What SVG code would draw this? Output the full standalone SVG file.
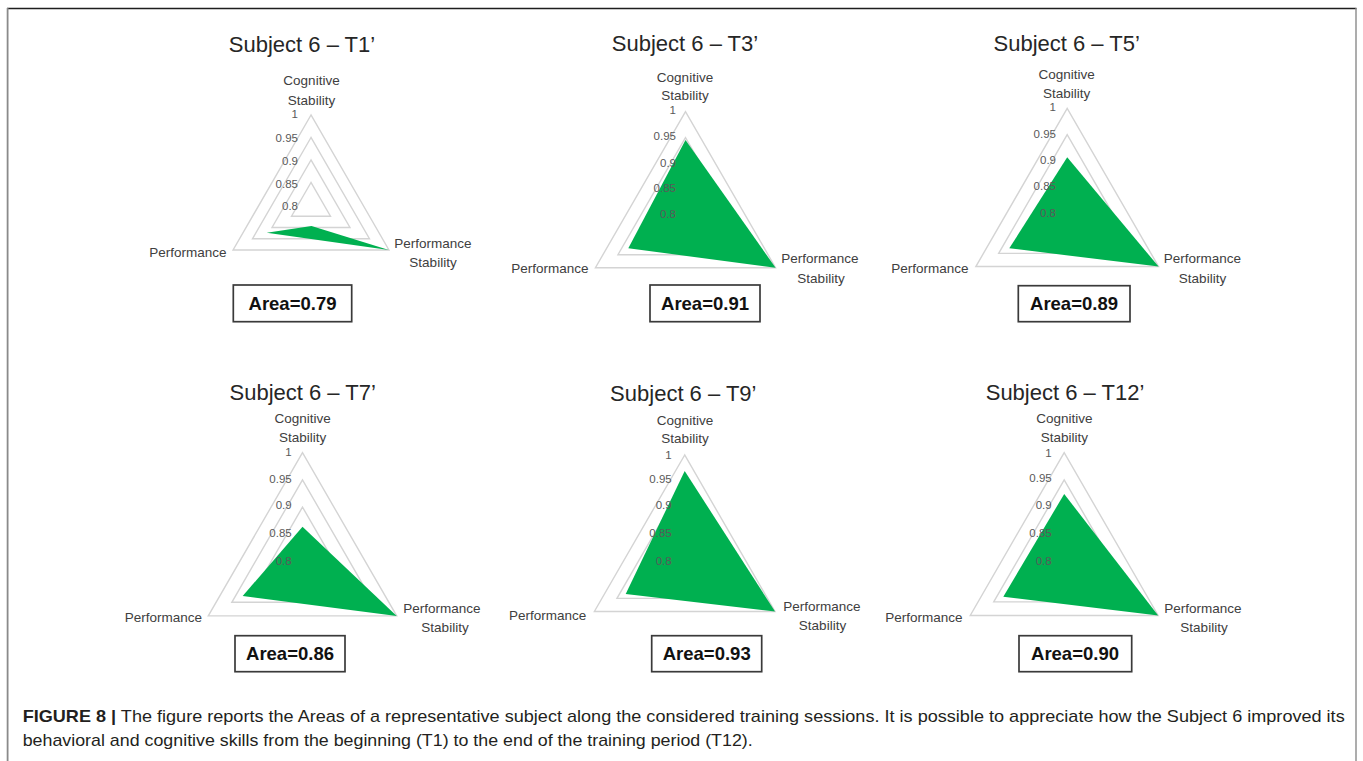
<svg xmlns="http://www.w3.org/2000/svg" width="1363" height="761" viewBox="0 0 1363 761">
<style>
text{font-family:"Liberation Sans",Arial,sans-serif}
.ring{fill:none;stroke:#d4d4d4;stroke-width:1.4;stroke-linejoin:miter}
.area{fill:#00b050}
.title{font-size:22px;fill:#262626;text-anchor:middle}
.ax{font-size:13.5px;fill:#404040;text-anchor:middle}
.tick{font-size:11.5px;fill:#595959;text-anchor:end}
.box{fill:#ffffff;stroke:#3a3a3a;stroke-width:1.7}
.val{font-size:18.5px;font-weight:bold;fill:#111;text-anchor:middle}
.cap{font-size:17px;fill:#231f20}
</style>
<rect x="0" y="0" width="1363" height="761" fill="#ffffff"/>
<g id="frame">
<line x1="7" y1="8.5" x2="1356.5" y2="8.5" stroke="#1e1e1e" stroke-width="1.3"/>
<line x1="7.6" y1="8" x2="7.6" y2="761" stroke="#8a8a8a" stroke-width="1.8"/>
<line x1="1356" y1="8" x2="1356" y2="761" stroke="#8a8a8a" stroke-width="1.4"/>
</g>

<g id="chart-t1">
<text class="title" x="302" y="52">Subject 6 – T1’</text>
<polygon class="ring" points="311,115 233.06,250 388.94,250"/>
<polygon class="ring" points="311,137.5 252.54,238.75 369.46,238.75"/>
<polygon class="ring" points="311,160 272.03,227.5 349.97,227.5"/>
<polygon class="ring" points="311,182.5 291.51,216.25 330.49,216.25"/>
<polygon class="area" points="311.5,226 266.7,232.7 388.9,250"/>
<text class="tick" x="298" y="118">1</text>
<text class="tick" x="298" y="141.7">0.95</text>
<text class="tick" x="298" y="165">0.9</text>
<text class="tick" x="298" y="188">0.85</text>
<text class="tick" x="298" y="210">0.8</text>
<text class="ax" x="311.5" y="85">Cognitive</text>
<text class="ax" x="311.5" y="105">Stability</text>
<text class="ax" x="188" y="257">Performance</text>
<text class="ax" x="433" y="248">Performance</text>
<text class="ax" x="433" y="267">Stability</text>
<rect class="box" x="233.3" y="285" width="118.4" height="36.7"/>
<text class="val" x="292.5" y="310">Area=0.79</text>
</g>

<g id="chart-t3">
<text class="title" x="685" y="51">Subject 6 – T3’</text>
<polygon class="ring" points="685.5,111.7 595.43,267.7 775.57,267.7"/>
<polygon class="ring" points="685.5,137.7 617.95,254.7 753.05,254.7"/>
<polygon class="ring" points="685.5,163.7 640.47,241.7 730.53,241.7"/>
<polygon class="ring" points="685.5,189.7 662.98,228.7 708.02,228.7"/>
<polygon class="area" points="685.5,140 628.3,248.3 775.57,267.7"/>
<text class="tick" x="676" y="114">1</text>
<text class="tick" x="676" y="140">0.95</text>
<text class="tick" x="676" y="166.7">0.9</text>
<text class="tick" x="676" y="191.7">0.85</text>
<text class="tick" x="676" y="218">0.8</text>
<text class="ax" x="685" y="81.7">Cognitive</text>
<text class="ax" x="685" y="100">Stability</text>
<text class="ax" x="550" y="273.3">Performance</text>
<text class="ax" x="820" y="263.3">Performance</text>
<text class="ax" x="821" y="283.3">Stability</text>
<rect class="box" x="650" y="285" width="110" height="36.7"/>
<text class="val" x="705" y="310">Area=0.91</text>
</g>

<g id="chart-t5">
<text class="title" x="1066.7" y="51">Subject 6 – T5’</text>
<polygon class="ring" points="1067.2,108.3 975.84,266.55 1158.56,266.55"/>
<polygon class="ring" points="1067.2,134.68 998.68,253.36 1135.72,253.36"/>
<polygon class="ring" points="1067.2,161.05 1021.52,240.18 1112.88,240.18"/>
<polygon class="ring" points="1067.2,187.43 1044.36,226.99 1090.04,226.99"/>
<polygon class="area" points="1067.2,157.3 1009.3,248.3 1158.56,266.55"/>
<text class="tick" x="1056" y="111">1</text>
<text class="tick" x="1056" y="138.3">0.95</text>
<text class="tick" x="1056" y="164">0.9</text>
<text class="tick" x="1056" y="190">0.85</text>
<text class="tick" x="1056" y="216.7">0.8</text>
<text class="ax" x="1066.7" y="79.3">Cognitive</text>
<text class="ax" x="1066.7" y="98.3">Stability</text>
<text class="ax" x="930" y="273.3">Performance</text>
<text class="ax" x="1202.5" y="263.3">Performance</text>
<text class="ax" x="1202.5" y="283.3">Stability</text>
<rect class="box" x="1018.3" y="285.7" width="111.7" height="36"/>
<text class="val" x="1074" y="310">Area=0.89</text>
</g>

<g id="chart-t7">
<text class="title" x="302.7" y="400">Subject 6 – T7’</text>
<polygon class="ring" points="302.5,452.7 208.28,615.9 396.72,615.9"/>
<polygon class="ring" points="302.5,479.9 231.83,602.3 373.17,602.3"/>
<polygon class="ring" points="302.5,507.1 255.39,588.7 349.61,588.7"/>
<polygon class="ring" points="302.5,534.3 278.94,575.1 326.06,575.1"/>
<polygon class="area" points="302.5,526.7 242.7,596 396.72,615.9"/>
<text class="tick" x="291.7" y="456">1</text>
<text class="tick" x="291.7" y="482.7">0.95</text>
<text class="tick" x="291.7" y="509.3">0.9</text>
<text class="tick" x="291.7" y="536.7">0.85</text>
<text class="tick" x="291.7" y="565">0.8</text>
<text class="ax" x="302.7" y="423.3">Cognitive</text>
<text class="ax" x="302.7" y="441.7">Stability</text>
<text class="ax" x="163.3" y="621.7">Performance</text>
<text class="ax" x="442" y="612.7">Performance</text>
<text class="ax" x="445" y="631.7">Stability</text>
<rect class="box" x="235" y="635.7" width="110" height="36"/>
<text class="val" x="290" y="660">Area=0.86</text>
</g>

<g id="chart-t9">
<text class="title" x="683.3" y="400.7">Subject 6 – T9’</text>
<polygon class="ring" points="684.7,455 594.37,611.45 775.03,611.45"/>
<polygon class="ring" points="684.7,481.08 616.96,598.41 752.44,598.41"/>
<polygon class="ring" points="684.7,507.15 639.54,585.38 729.86,585.38"/>
<polygon class="ring" points="684.7,533.23 662.12,572.34 707.28,572.34"/>
<polygon class="area" points="684.7,471 625.7,594 775.03,611.45"/>
<text class="tick" x="671.7" y="459">1</text>
<text class="tick" x="671.7" y="483.3">0.95</text>
<text class="tick" x="671.7" y="509.3">0.9</text>
<text class="tick" x="671.7" y="536.7">0.85</text>
<text class="tick" x="671.7" y="565">0.8</text>
<text class="ax" x="685" y="425">Cognitive</text>
<text class="ax" x="685" y="443.3">Stability</text>
<text class="ax" x="547.7" y="620">Performance</text>
<text class="ax" x="822" y="610.7">Performance</text>
<text class="ax" x="822.5" y="630">Stability</text>
<rect class="box" x="651.7" y="635.7" width="110" height="36"/>
<text class="val" x="706.7" y="660">Area=0.93</text>
</g>

<g id="chart-t12">
<text class="title" x="1065" y="400">Subject 6 – T12’</text>
<polygon class="ring" points="1064.2,452.7 970.24,615.45 1158.16,615.45"/>
<polygon class="ring" points="1064.2,479.83 993.73,601.89 1134.67,601.89"/>
<polygon class="ring" points="1064.2,506.95 1017.22,588.33 1111.18,588.33"/>
<polygon class="ring" points="1064.2,534.08 1040.71,574.76 1087.69,574.76"/>
<polygon class="area" points="1064.2,494 1003.3,596.7 1158.16,615.45"/>
<text class="tick" x="1051.7" y="457">1</text>
<text class="tick" x="1051.7" y="481.7">0.95</text>
<text class="tick" x="1051.7" y="509.3">0.9</text>
<text class="tick" x="1051.7" y="536.7">0.85</text>
<text class="tick" x="1051.7" y="565">0.8</text>
<text class="ax" x="1064.3" y="423.3">Cognitive</text>
<text class="ax" x="1064.3" y="441.7">Stability</text>
<text class="ax" x="924" y="621.7">Performance</text>
<text class="ax" x="1202.8" y="612.7">Performance</text>
<text class="ax" x="1204" y="631.7">Stability</text>
<rect class="box" x="1019" y="635.7" width="112.7" height="36"/>
<text class="val" x="1075" y="660">Area=0.90</text>
</g>

<g id="caption">
<text class="cap" x="22.7" y="721.5" textLength="1322" lengthAdjust="spacingAndGlyphs"><tspan font-weight="bold">FIGURE 8 |</tspan> The figure reports the Areas of a representative subject along the considered training sessions. It is possible to appreciate how the Subject 6 improved its</text>
<text class="cap" x="22.7" y="745.5" textLength="730" lengthAdjust="spacingAndGlyphs">behavioral and cognitive skills from the beginning (T1) to the end of the training period (T12).</text>
</g>
</svg>
